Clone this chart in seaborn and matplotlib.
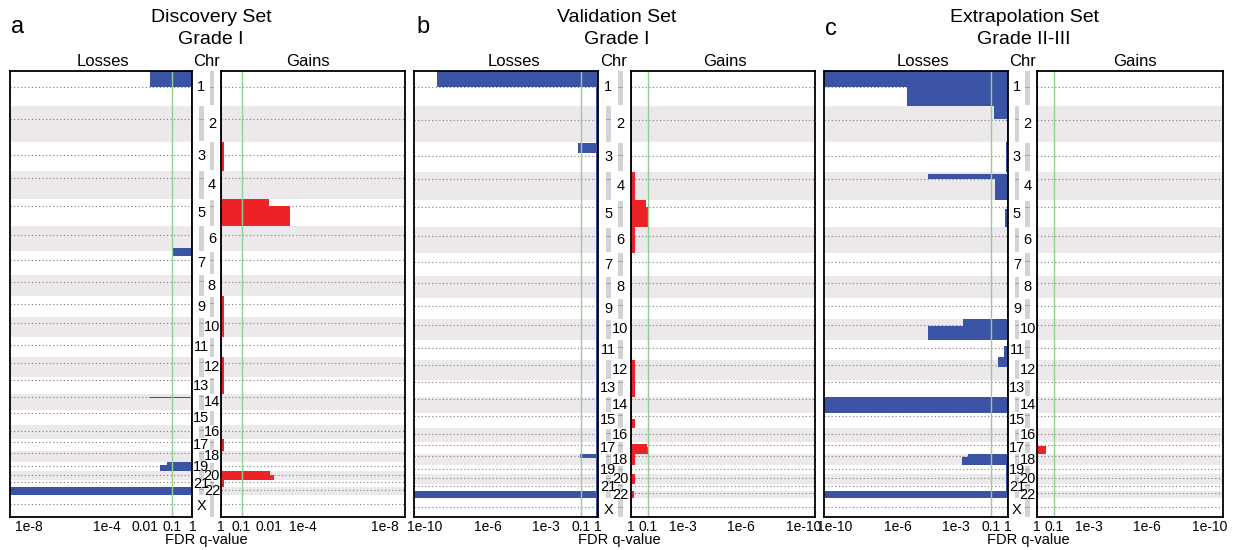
import numpy as np
import matplotlib
matplotlib.use("Agg")
import matplotlib.pyplot as plt
from matplotlib.transforms import ScaledTranslation
import seaborn as sns

sns.set_theme(style="white")
plt.rcParams["font.family"] = ["Liberation Sans", "DejaVu Sans"]
plt.rcParams["text.color"] = "black"
plt.rcParams["xtick.color"] = "black"
plt.rcParams["xtick.labelcolor"] = "black"

W, H = 1239, 550

# ---------------- data ----------------
chrom_names = ["1", "2", "3", "4", "5", "6", "7", "8", "9", "10", "11", "12",
               "13", "14", "15", "16", "17", "18", "19", "20", "21", "22", "X"]
chrom_len_mb = [249.25, 243.20, 198.02, 191.15, 180.92, 171.12, 159.14, 146.36,
                141.21, 135.53, 135.01, 133.85, 115.17, 107.35, 102.53, 90.35,
                81.20, 78.08, 59.13, 63.03, 48.13, 51.30, 155.27]
centromere_mb = [125.0, 93.3, 91.0, 50.4, 48.4, 61.0, 59.9, 45.6, 49.0, 40.2,
                 53.7, 35.8, 17.9, 17.6, 19.0, 36.6, 24.0, 17.2, 26.5, 27.5,
                 13.2, 14.7, 60.6]

panel_letters = ["a", "b", "c"]
panel_title1 = ["Discovery Set", "Validation Set", "Extrapolation Set"]
panel_title2 = ["Grade I", "Grade I", "Grade II-III"]

ticks_q_a = [1e-8, 1e-4, 1e-2, 1e-1, 1]
ticks_lab_a = ["1e-8", "1e-4", "0.01", "0.1", "1"]
ticks_q_bc = [1e-10, 1e-6, 1e-3, 1e-1, 1]
ticks_lab_bc = ["1e-10", "1e-6", "1e-3", "0.1", "1"]
q_threshold = 0.1

# segments: (chromosome, start Mb, end Mb, FDR q-value); elsewhere base q
a_loss_base = 0.85
a_losses = [("1", 0, 125, 0.008), ("6", 148, 171.12, 0.095), ("7", 0, 31, 0.095),
            ("14", 16, 27, 0.008), ("19", 0, 20, 0.054), ("19", 20, 59.13, 0.025),
            ("22", 0, 51.3, 1e-12)]
a_gain_base = 0.88
a_gains = [("3", 0, 198.02, 0.7), ("5", 0, 48.4, 0.0046), ("5", 48.4, 180.92, 0.00043),
           ("9", 0, 141.21, 0.75), ("10", 0, 135.53, 0.75), ("12", 0, 133.85, 0.75),
           ("13", 0, 115.17, 0.75), ("17", 0, 81.2, 0.75), ("20", 0, 27.5, 0.0041),
           ("20", 27.5, 63.03, 0.0026), ("21", 0, 48.13, 0.75)]

b_loss_base = 0.75
b_losses = [("1", 0, 125, 5e-10), ("3", 7, 70, 0.072), ("18", 5, 28, 0.09),
            ("22", 0, 51.3, 1e-12)]
b_gain_base = 0.88
b_gains = [("4", 0, 191.15, 0.6), ("5", 0, 48.4, 0.13), ("5", 48.4, 180.92, 0.1),
           ("6", 0, 171.12, 0.6), ("12", 0, 133.85, 0.6), ("13", 0, 115.17, 0.6),
           ("15", 40, 102.53, 0.6), ("17", 14, 36, 0.115), ("17", 36, 81.2, 0.1),
           ("18", 0, 78.08, 0.6), ("20", 0, 63.03, 0.6), ("22", 0, 51.3, 0.7)]

c_loss_base = 0.9
c_losses = [("1", 0, 125, 1e-12), ("1", 125, 249.25, 1.5e-6), ("2", 0, 85, 0.16),
            ("3", 0, 198.02, 0.75), ("4", 15, 50, 2.5e-5), ("4", 50, 191.15, 0.18),
            ("5", 60, 180.92, 0.67), ("10", 0, 45, 0.0026), ("10", 45, 135.53, 2.3e-5),
            ("11", 45, 115, 0.6), ("11", 115, 135.01, 0.27), ("12", 0, 47, 0.27),
            ("14", 0, 107.35, 1e-12), ("18", 0, 20, 0.005), ("18", 20, 78.08, 0.0023),
            ("19", 0, 59.13, 0.75), ("20", 0, 63.03, 0.75), ("21", 0, 48.13, 0.75),
            ("22", 0, 51.3, 1e-12)]
c_gain_base = 0.92
c_gains = [("17", 30, 81.2, 0.3)]

# ---------------- layout (pixels) ----------------
Y_TOP, Y_BOT = 70.7, 517.0
layout = [
    dict(loss=(9.5, 192.5), strip=(192.5, 221), gain=(221, 405), ppd=20.5,
         ylim=(3030, 13), shift_l={"0.01": 7, "1e-4": 4}, shift_g={"0.01": 7},
         letter=(18, 27), title_x=211, losses_x=103, chr_x=207, gains_x=308, fdr_x=206),
    dict(loss=(414, 598), strip=(598, 631), gain=(631, 815), ppd=17.3,
         ylim=(3006, 13), shift_l={"1e-6": 6}, shift_g={"1e-6": 6},
         letter=(423, 27), title_x=617, losses_x=514, chr_x=614, gains_x=725, fdr_x=619),
    dict(loss=(824, 1008), strip=(1008, 1037), gain=(1037, 1222.5), ppd=17.3,
         ylim=(3006, 13), shift_l={"1e-6": 6}, shift_g={"1e-6": 6},
         letter=(831, 29), title_x=1024, losses_x=923, chr_x=1023, gains_x=1135, fdr_x=1028),
]
data = [(a_losses, a_loss_base, a_gains, a_gain_base, ticks_q_a, ticks_lab_a),
        (b_losses, b_loss_base, b_gains, b_gain_base, ticks_q_bc, ticks_lab_bc),
        (c_losses, c_loss_base, c_gains, c_gain_base, ticks_q_bc, ticks_lab_bc)]

BLUE = "#3B53A4"
RED = "#EC2227"
GREEN = "#8ED28E"
SHADE = "#ECE8EC"

offsets = np.concatenate([[0], np.cumsum(chrom_len_mb)])
genome_len = offsets[-1]
chrom_start = dict(zip(chrom_names, offsets[:-1]))


def profile(segments, base_q):
    pts = {0.0, float(genome_len)}
    abs_segs = []
    for ch, s, e, q in segments:
        a0, a1 = chrom_start[ch] + s, chrom_start[ch] + e
        abs_segs.append((a0, a1, q))
        pts.update([a0, a1])
    ys = np.array(sorted(pts))
    vals = []
    for lo, hi in zip(ys[:-1], ys[1:]):
        mid = 0.5 * (lo + hi)
        q = base_q
        for a0, a1, qq in abs_segs:
            if a0 <= mid < a1:
                q = qq
        vals.append(-np.log10(q))
    vals.append(vals[-1])
    return ys, np.array(vals)


def fig_rect(x0, x1):
    return [x0 / W, 1 - Y_BOT / H, (x1 - x0) / W, (Y_BOT - Y_TOP) / H]


fig = plt.figure(figsize=(W / 100, H / 100), dpi=100)


def decorate(ax, ylim):
    for i in range(len(chrom_names)):
        if i % 2 == 1:
            ax.axhspan(offsets[i], offsets[i + 1], color=SHADE, lw=0, zorder=0)
        ax.axhline(offsets[i] + centromere_mb[i], color="#7c7c7c", lw=0.8,
                   ls=(0, (1, 2.2)), zorder=1)
    ax.axvline(-np.log10(q_threshold), color=GREEN, lw=1.0, zorder=4)
    ax.set_ylim(*ylim)
    ax.set_yticks([])
    for sp in ax.spines.values():
        sp.set_visible(True)
        sp.set_color("black")
        sp.set_linewidth(1.3)
        sp.set_zorder(6)
    ax.tick_params(axis="x", length=0, labelsize=10, pad=2, colors="black")
    ax.set_facecolor("white")


def shift_labels(ax, labels, shifts, sign):
    for lab, tick in zip(labels, ax.xaxis.get_major_ticks()):
        if lab in shifts:
            off = ScaledTranslation(sign * shifts[lab] / 100.0, 0, fig.dpi_scale_trans)
            tick.label1.set_transform(tick.label1.get_transform() + off)


for p, (lay, dat) in enumerate(zip(layout, data)):
    losses, lbase, gains, gbase, tq, tl = dat
    ppd = lay["ppd"]
    # losses
    axL = fig.add_axes(fig_rect(*lay["loss"]))
    decorate(axL, lay["ylim"])
    ys, xs = profile(losses, lbase)
    axL.fill_betweenx(ys, 0, xs, step="post", color=BLUE, lw=0, zorder=3)
    axL.set_xlim((lay["loss"][1] - lay["loss"][0]) / ppd, 0)
    axL.set_xticks([-np.log10(q) for q in tq])
    axL.set_xticklabels(tl)
    shift_labels(axL, tl, lay["shift_l"], -1)
    # gains
    axG = fig.add_axes(fig_rect(*lay["gain"]))
    decorate(axG, lay["ylim"])
    ys, xs = profile(gains, gbase)
    axG.fill_betweenx(ys, 0, xs, step="post", color=RED, lw=0, zorder=3)
    axG.set_xlim(0, (lay["gain"][1] - lay["gain"][0]) / ppd)
    axG.set_xticks([-np.log10(q) for q in tq[::-1]])
    axG.set_xticklabels(tl[::-1])
    shift_labels(axG, tl[::-1], lay["shift_g"], 1)
    # chromosome strip
    axS = fig.add_axes(fig_rect(*lay["strip"]))
    axS.set_xlim(0, 1)
    axS.set_ylim(*lay["ylim"])
    axS.axis("off")
    cols = (0.31, 0.68)
    for i, name in enumerate(chrom_names):
        bar_col = cols[1] if i % 2 == 0 else cols[0]
        lab_col = cols[0] if i % 2 == 0 else cols[1]
        gap = 3.0
        axS.bar(bar_col, chrom_len_mb[i] - 2 * gap, bottom=offsets[i] + gap,
                width=0.16, color="#D3D3D3", lw=0, zorder=1)
        axS.bar(bar_col, 5, bottom=offsets[i] + centromere_mb[i] - 2.5,
                width=0.16, color="#A5A5A5", lw=0, zorder=2)
        axS.text(lab_col, offsets[i] + chrom_len_mb[i] / 2, name, ha="center",
                 va="center", fontsize=10.5, color="black", zorder=3)
    # texts
    lx, ly = lay["letter"]
    fig.text(lx / W, 1 - ly / H, panel_letters[p], ha="center", va="center",
             fontsize=17)
    fig.text(lay["title_x"] / W, 1 - 18 / H, panel_title1[p], ha="center",
             va="center", fontsize=14)
    fig.text(lay["title_x"] / W, 1 - 40 / H, panel_title2[p], ha="center",
             va="center", fontsize=14)
    fig.text(lay["losses_x"] / W, 1 - 61 / H, "Losses", ha="center", va="center", fontsize=12)
    fig.text(lay["chr_x"] / W, 1 - 61 / H, "Chr", ha="center", va="center", fontsize=12)
    fig.text(lay["gains_x"] / W, 1 - 61 / H, "Gains", ha="center", va="center", fontsize=12)
    fig.text(lay["fdr_x"] / W, 1 - 540 / H, "FDR q-value", ha="center", va="center",
             fontsize=10.5)

fig.savefig("out.png", dpi=100, facecolor="white")
